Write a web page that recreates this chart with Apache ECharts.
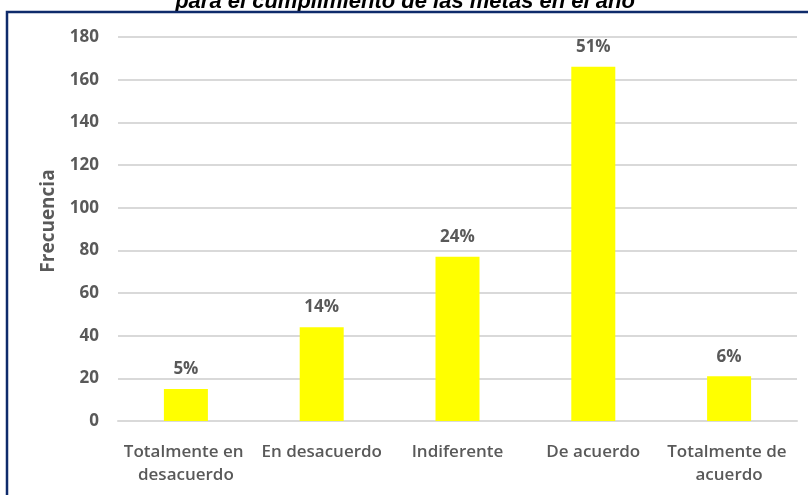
<!DOCTYPE html>
<html>
<head>
<meta charset="utf-8">
<script src="https://cdn.jsdelivr.net/npm/echarts@6/dist/echarts.min.js"></script>
<style>
  html, body { margin: 0; padding: 0; background: #fff; }
  #chart { width: 808px; height: 495px; }
</style>
</head>
<body>
<div id="chart"></div>
<script>
  // datos del gráfico
  const categorias = ["Totalmente en desacuerdo", "En desacuerdo", "Indiferente", "De acuerdo", "Totalmente de acuerdo"];
  const frecuencias = [15, 44, 77, 166, 21];
  const porcentajes = ["5%", "14%", "24%", "51%", "6%"];
  const titulo = "para el cumplimiento de las metas en el año";
  const ejeY = { min: 0, max: 180, interval: 20, nombre: "Frecuencia" };

  const gris = "#595959";
  const fuente = "'Open Sans', 'Noto Sans', sans-serif";

  const chart = echarts.init(document.getElementById("chart"), null, { renderer: "canvas" });

  chart.setOption({
    animation: false,
    backgroundColor: "#fff",
    grid: { left: 118, right: 11, top: 37, bottom: 74 },
    graphic: [
      // título cortado arriba, queda detrás del marco
      {
        type: "text",
        z: -2,
        style: {
          text: titulo,
          x: 405,
          y: 2,
          align: "center",
          verticalAlign: "middle",
          font: "italic bold 22px 'Liberation Sans', Arial, sans-serif",
          fill: "#000",
        },
      },
      // marco azul del gráfico
      {
        type: "rect",
        z: -1,
        shape: { x: 7, y: 12, width: 900, height: 600 },
        style: { fill: "#fff", stroke: "#0f2b6b", lineWidth: 2.5 },
      },
      // nombre del eje Y
      {
        type: "text",
        z: 5,
        x: 49,
        y: 221,
        rotation: Math.PI / 2,
        style: {
          text: ejeY.nombre,
          align: "center",
          verticalAlign: "middle",
          font: "bold 19px " + fuente,
          fill: gris,
        },
      },
    ],
    xAxis: {
      type: "category",
      data: categorias,
      axisLine: { show: true, lineStyle: { color: "#d9d9d9", width: 2 } },
      axisTick: { show: false },
      axisLabel: {
        color: gris,
        fontFamily: fuente,
        fontSize: 17,
        fontWeight: 600,
        lineHeight: 23,
        margin: 20,
        interval: 0,
        width: 134,
        overflow: "break",
      },
    },
    yAxis: {
      type: "value",
      min: ejeY.min,
      max: ejeY.max,
      interval: ejeY.interval,
      axisLine: { show: false },
      axisTick: { show: false },
      splitLine: { lineStyle: { color: "#d9d9d9", width: 2 } },
      axisLabel: {
        color: gris,
        fontFamily: fuente,
        fontSize: 17,
        fontWeight: "bold",
        margin: 19,
      },
    },
    series: [
      {
        type: "bar",
        data: frecuencias,
        barWidth: 44,
        itemStyle: { color: "#ffff00" },
        label: {
          show: true,
          position: "top",
          distance: 11,
          color: gris,
          fontFamily: fuente,
          fontSize: 17,
          fontWeight: "bold",
          formatter: (p) => porcentajes[p.dataIndex],
        },
      },
    ],
  });
</script>
</body>
</html>
